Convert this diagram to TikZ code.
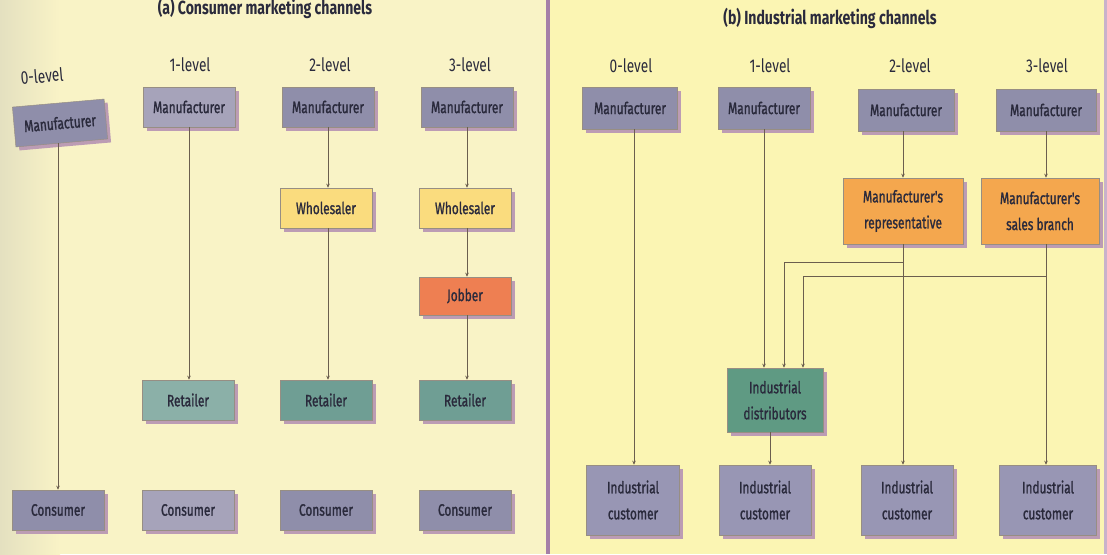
\documentclass[tikz,border=0pt]{standalone}
\usepackage{fontspec}
\setmainfont[FakeStretch=0.74]{Fira Sans}
\newfontfamily\boxfont[FakeStretch=0.72, FakeBold=1.2]{Fira Sans}
\usetikzlibrary{shadows,arrows.meta}
\definecolor{bgR}{HTML}{FBF5B3}
\definecolor{bgL}{HTML}{F9F3C6}
\definecolor{bgLL}{HTML}{E4E0C0}
\definecolor{divc}{HTML}{A57FA8}
\definecolor{manc}{HTML}{8F8EAA}
\definecolor{manl}{HTML}{A6A3BA}
\definecolor{whc}{HTML}{FADC7E}
\definecolor{jobc}{HTML}{EE7F52}
\definecolor{retc}{HTML}{6F9E94}
\definecolor{retl}{HTML}{8BB0A8}
\definecolor{repc}{HTML}{F4A74E}
\definecolor{distc}{HTML}{5F9A83}
\definecolor{icc}{HTML}{9896B4}
\definecolor{shc}{HTML}{BC9CB4}
\definecolor{txc}{HTML}{2A2A3C}
\definecolor{linec}{HTML}{6B5E4E}
\tikzset{
  box/.style={draw=linec!70, line width=0.5pt, text=txc, font=\boxfont\fontsize{16.5}{26}\selectfont,
    minimum width=92pt, minimum height=40pt, inner sep=1pt, align=center,
    drop shadow={shadow xshift=3.5pt, shadow yshift=-3.5pt, fill=shc, opacity=1}},
  tallbox/.style={box, minimum height=68pt},
  lvl/.style={text=txc, font=\fontsize{18.5}{19}\selectfont},
  ttl/.style={text=txc, font=\fontsize{19}{20}\bfseries\selectfont},
  conn/.style={draw=linec, line width=0.7pt},
  arr/.style={conn, -{Stealth[length=4pt,width=3.5pt]}}
}
\begin{document}
\begin{tikzpicture}[x=1pt,y=-1pt]
\useasboundingbox (0,0) rectangle (1107,554);
% backgrounds
\fill[bgR] (0,0) rectangle (1107,554);
\shade[left color=bgLL, right color=bgL, shading angle=90] (0,0) rectangle (60,554);
\fill[bgL] (60,0) rectangle (547,554);
\fill[divc] (546,0) rectangle (550,554);
\fill[divc!60] (1104,0) rectangle (1107,554);

% titles
\node[ttl] (ta) at (265,8) {(a) Consumer marketing channels};
\node[ttl] (tb) at (830,18) {(b) Industrial marketing channels};

% level labels (a)
\node[lvl, rotate=5] (la0) at (42,76) {0-level};
\node[lvl] (la1) at (190,65) {1-level};
\node[lvl] (la2) at (330,65) {2-level};
\node[lvl] (la3) at (470,65) {3-level};
% level labels (b)
\node[lvl] (lb0) at (631,66) {0-level};
\node[lvl] (lb1) at (770,66) {1-level};
\node[lvl] (lb2) at (910,66) {2-level};
\node[lvl] (lb3) at (1047,66) {3-level};

% consumer channels
\node[box, fill=manc, rotate=5] (man0) at (60,123) {Manufacturer};
\node[box, fill=manl] (man1) at (189,107) {Manufacturer};
\node[box, fill=manc] (man2) at (328,107) {Manufacturer};
\node[box, fill=manc] (man3) at (467,107) {Manufacturer};
\node[box, fill=whc] (wh2) at (326,208) {Wholesaler};
\node[box, fill=whc] (wh3) at (465,208) {Wholesaler};
\node[box, fill=jobc, minimum height=38pt] (job) at (465,296) {Jobber};
\node[box, fill=retl] (ret1) at (188,400) {Retailer};
\node[box, fill=retc] (ret2) at (326,400) {Retailer};
\node[box, fill=retc] (ret3) at (465,400) {Retailer};
\node[box, fill=manc] (con0) at (58,510) {Consumer};
\node[box, fill=manl] (con1) at (188,510) {Consumer};
\node[box, fill=manc] (con2) at (326,510) {Consumer};
\node[box, fill=manc] (con3) at (465,510) {Consumer};

\draw[arr] (con0.north |- man0.south) -- (con0.north);
\draw[arr] (man1.south) -- (man1.south |- ret1.north);
\draw[arr] (man2.south) -- (man2.south |- wh2.north);
\draw[arr] (man2.south |- wh2.south) -- (man2.south |- ret2.north);
\draw[arr] (man3.south) -- (man3.south |- wh3.north);
\draw[arr] (man3.south |- wh3.south) -- (man3.south |- job.north);
\draw[arr] (man3.south |- job.south) -- (man3.south |- ret3.north);

% industrial channels
\node[box, fill=manc, minimum height=42pt, minimum width=95pt] (rm0) at (630,108) {Manufacturer};
\node[box, fill=manc, minimum height=42pt] (rm1) at (764,108) {Manufacturer};
\node[box, fill=manc, minimum height=42pt, minimum width=96pt] (rm2) at (906,110) {Manufacturer};
\node[box, fill=manc, minimum height=42pt, minimum width=100pt] (rm3) at (1046,110) {Manufacturer};
\node[tallbox, fill=repc, minimum width=120pt, minimum height=66pt] (rep) at (903,211) {Manufacturer's\\representative};
\node[tallbox, fill=repc, minimum width=118pt, minimum height=66pt] (sb) at (1040,211) {Manufacturer's\\sales branch};
\node[tallbox, fill=distc, minimum width=96pt, minimum height=64pt] (dist) at (775,400) {Industrial\\distributors};
\node[tallbox, fill=icc, minimum width=93pt, minimum height=70pt] (ic0) at (633,500) {Industrial\\customer};
\node[tallbox, fill=icc, minimum height=70pt] (ic1) at (765,500) {Industrial\\customer};
\node[tallbox, fill=icc, minimum height=70pt] (ic2) at (907,500) {Industrial\\customer};
\node[tallbox, fill=icc, minimum width=97pt, minimum height=70pt] (ic3) at (1048,500) {Industrial\\customer};

\coordinate (h1) at (0,262);
\coordinate (h2) at (0,276);
\coordinate (px) at (903,0);
\coordinate (sx) at (1046,0);

\draw[arr] (rm0.south) ++(4,0) coordinate (r0s) -- (r0s |- ic0.north);
\draw[arr] (rm1.south) -- (rm1.south |- dist.north);
\draw[arr] (px |- rm2.south) -- (px |- rep.north);
\draw[arr] (sx |- rm3.south) -- (sx |- sb.north);
\draw[arr] (px |- rep.south) -- (px |- ic2.north);
\draw[arr] (sx |- sb.south) -- (sx |- ic3.north);
\draw[arr] (px |- h1) -| ([xshift=9pt]dist.north);
\draw[arr] (sx |- h2) -| ([xshift=28pt]dist.north);
\draw[arr] ([xshift=-5pt]dist.south) -- ([xshift=-5pt]dist.south |- ic1.north);
\end{tikzpicture}
\end{document}
